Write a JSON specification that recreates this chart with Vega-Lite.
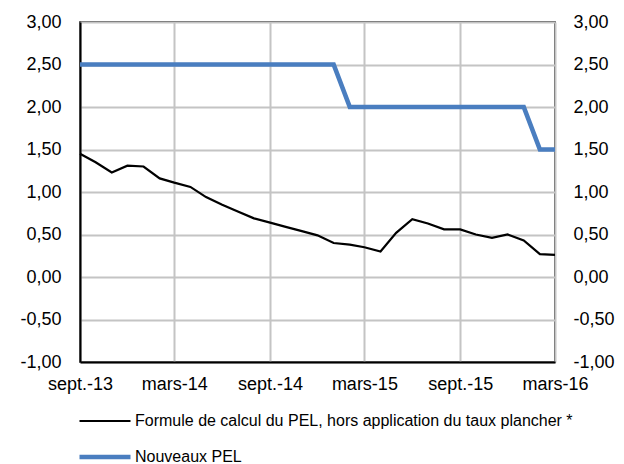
{
  "$schema": "https://vega.github.io/schema/vega-lite/v6.json",
  "width": 475,
  "height": 340,
  "autosize": {"type": "none"},
  "padding": {"left": 80, "top": 22, "right": 69, "bottom": 102},
  "background": "white",
  "config": {
    "font": "Liberation Sans",
    "view": {"stroke": "#000000", "strokeWidth": 1.5},
    "axis": {"labelFont": "Liberation Sans", "labelColor": "#000000", "labelFontSize": 18, "ticks": false, "title": null, "gridColor": "#c4c4c4", "gridWidth": 2, "domainColor": "#000000", "domainWidth": 2}
  },
  "data": {"values": [
    {"date": "2013-09-01", "serie": "Formule de calcul du PEL, hors application du taux plancher *", "taux": 1.45},
    {"date": "2013-10-01", "serie": "Formule de calcul du PEL, hors application du taux plancher *", "taux": 1.35},
    {"date": "2013-11-01", "serie": "Formule de calcul du PEL, hors application du taux plancher *", "taux": 1.23},
    {"date": "2013-12-01", "serie": "Formule de calcul du PEL, hors application du taux plancher *", "taux": 1.31},
    {"date": "2014-01-01", "serie": "Formule de calcul du PEL, hors application du taux plancher *", "taux": 1.30},
    {"date": "2014-02-01", "serie": "Formule de calcul du PEL, hors application du taux plancher *", "taux": 1.16},
    {"date": "2014-03-01", "serie": "Formule de calcul du PEL, hors application du taux plancher *", "taux": 1.11},
    {"date": "2014-04-01", "serie": "Formule de calcul du PEL, hors application du taux plancher *", "taux": 1.06},
    {"date": "2014-05-01", "serie": "Formule de calcul du PEL, hors application du taux plancher *", "taux": 0.94},
    {"date": "2014-06-01", "serie": "Formule de calcul du PEL, hors application du taux plancher *", "taux": 0.85},
    {"date": "2014-07-01", "serie": "Formule de calcul du PEL, hors application du taux plancher *", "taux": 0.77},
    {"date": "2014-08-01", "serie": "Formule de calcul du PEL, hors application du taux plancher *", "taux": 0.69},
    {"date": "2014-09-01", "serie": "Formule de calcul du PEL, hors application du taux plancher *", "taux": 0.64},
    {"date": "2014-10-01", "serie": "Formule de calcul du PEL, hors application du taux plancher *", "taux": 0.59},
    {"date": "2014-11-01", "serie": "Formule de calcul du PEL, hors application du taux plancher *", "taux": 0.54},
    {"date": "2014-12-01", "serie": "Formule de calcul du PEL, hors application du taux plancher *", "taux": 0.49},
    {"date": "2015-01-01", "serie": "Formule de calcul du PEL, hors application du taux plancher *", "taux": 0.40},
    {"date": "2015-02-01", "serie": "Formule de calcul du PEL, hors application du taux plancher *", "taux": 0.38},
    {"date": "2015-03-01", "serie": "Formule de calcul du PEL, hors application du taux plancher *", "taux": 0.35},
    {"date": "2015-04-01", "serie": "Formule de calcul du PEL, hors application du taux plancher *", "taux": 0.30},
    {"date": "2015-05-01", "serie": "Formule de calcul du PEL, hors application du taux plancher *", "taux": 0.52},
    {"date": "2015-06-01", "serie": "Formule de calcul du PEL, hors application du taux plancher *", "taux": 0.68},
    {"date": "2015-07-01", "serie": "Formule de calcul du PEL, hors application du taux plancher *", "taux": 0.63},
    {"date": "2015-08-01", "serie": "Formule de calcul du PEL, hors application du taux plancher *", "taux": 0.56},
    {"date": "2015-09-01", "serie": "Formule de calcul du PEL, hors application du taux plancher *", "taux": 0.56},
    {"date": "2015-10-01", "serie": "Formule de calcul du PEL, hors application du taux plancher *", "taux": 0.50},
    {"date": "2015-11-01", "serie": "Formule de calcul du PEL, hors application du taux plancher *", "taux": 0.46},
    {"date": "2015-12-01", "serie": "Formule de calcul du PEL, hors application du taux plancher *", "taux": 0.50},
    {"date": "2016-01-01", "serie": "Formule de calcul du PEL, hors application du taux plancher *", "taux": 0.43},
    {"date": "2016-02-01", "serie": "Formule de calcul du PEL, hors application du taux plancher *", "taux": 0.27},
    {"date": "2016-03-01", "serie": "Formule de calcul du PEL, hors application du taux plancher *", "taux": 0.26},
    {"date": "2013-09-01", "serie": "Nouveaux PEL", "taux": 2.5},
    {"date": "2013-10-01", "serie": "Nouveaux PEL", "taux": 2.5},
    {"date": "2013-11-01", "serie": "Nouveaux PEL", "taux": 2.5},
    {"date": "2013-12-01", "serie": "Nouveaux PEL", "taux": 2.5},
    {"date": "2014-01-01", "serie": "Nouveaux PEL", "taux": 2.5},
    {"date": "2014-02-01", "serie": "Nouveaux PEL", "taux": 2.5},
    {"date": "2014-03-01", "serie": "Nouveaux PEL", "taux": 2.5},
    {"date": "2014-04-01", "serie": "Nouveaux PEL", "taux": 2.5},
    {"date": "2014-05-01", "serie": "Nouveaux PEL", "taux": 2.5},
    {"date": "2014-06-01", "serie": "Nouveaux PEL", "taux": 2.5},
    {"date": "2014-07-01", "serie": "Nouveaux PEL", "taux": 2.5},
    {"date": "2014-08-01", "serie": "Nouveaux PEL", "taux": 2.5},
    {"date": "2014-09-01", "serie": "Nouveaux PEL", "taux": 2.5},
    {"date": "2014-10-01", "serie": "Nouveaux PEL", "taux": 2.5},
    {"date": "2014-11-01", "serie": "Nouveaux PEL", "taux": 2.5},
    {"date": "2014-12-01", "serie": "Nouveaux PEL", "taux": 2.5},
    {"date": "2015-01-01", "serie": "Nouveaux PEL", "taux": 2.5},
    {"date": "2015-02-01", "serie": "Nouveaux PEL", "taux": 2.0},
    {"date": "2015-03-01", "serie": "Nouveaux PEL", "taux": 2.0},
    {"date": "2015-04-01", "serie": "Nouveaux PEL", "taux": 2.0},
    {"date": "2015-05-01", "serie": "Nouveaux PEL", "taux": 2.0},
    {"date": "2015-06-01", "serie": "Nouveaux PEL", "taux": 2.0},
    {"date": "2015-07-01", "serie": "Nouveaux PEL", "taux": 2.0},
    {"date": "2015-08-01", "serie": "Nouveaux PEL", "taux": 2.0},
    {"date": "2015-09-01", "serie": "Nouveaux PEL", "taux": 2.0},
    {"date": "2015-10-01", "serie": "Nouveaux PEL", "taux": 2.0},
    {"date": "2015-11-01", "serie": "Nouveaux PEL", "taux": 2.0},
    {"date": "2015-12-01", "serie": "Nouveaux PEL", "taux": 2.0},
    {"date": "2016-01-01", "serie": "Nouveaux PEL", "taux": 2.0},
    {"date": "2016-02-01", "serie": "Nouveaux PEL", "taux": 1.5},
    {"date": "2016-03-01", "serie": "Nouveaux PEL", "taux": 1.5}
  ]},
  "layer": [
    {
      "mark": {"type": "line", "strokeJoin": "miter"},
      "encoding": {
        "x": {
          "field": "date", "type": "temporal",
          "scale": {"type": "utc", "domain": [{"year": 2013, "month": 9, "date": 1, "utc": true}, {"year": 2016, "month": 3, "date": 1, "utc": true}]},
          "axis": {
            "values": [
              {"year": 2013, "month": 9, "date": 1, "utc": true},
              {"year": 2014, "month": 3, "date": 1, "utc": true},
              {"year": 2014, "month": 9, "date": 1, "utc": true},
              {"year": 2015, "month": 3, "date": 1, "utc": true},
              {"year": 2015, "month": 9, "date": 1, "utc": true},
              {"year": 2016, "month": 3, "date": 1, "utc": true}
            ],
            "labelExpr": "(utcmonth(datum.value) == 8 ? 'sept.-' : 'mars-') + utcFormat(datum.value, '%y')",
            "labelPadding": 13,
            "labelOverlap": false,
            "labelFlush": false
          }
        },
        "y": {
          "field": "taux", "type": "quantitative",
          "scale": {"domain": [-1, 3], "nice": false, "zero": false},
          "axis": {
            "orient": "left",
            "values": [-1, -0.5, 0, 0.5, 1, 1.5, 2, 2.5, 3],
            "labelExpr": "(datum.value < 0 ? '-' : '') + replace(format(abs(datum.value), '.2f'), '.', ',')",
            "labelPadding": 19,
            "labelFlush": false,
            "labelOverlap": false
          }
        },
        "color": {
          "field": "serie", "type": "nominal",
          "scale": {"domain": ["Formule de calcul du PEL, hors application du taux plancher *", "Nouveaux PEL"], "range": ["#000000", "#4A7EC0"]},
          "legend": {
            "orient": "none", "legendX": -3, "legendY": 372, "direction": "vertical", "title": null,
            "symbolType": "stroke", "symbolSize": 2601, "labelFontSize": 16, "labelFont": "Liberation Sans", "labelColor": "#000000",
            "labelOffset": 2, "rowPadding": -19, "padding": 0, "labelLimit": 600
          }
        },
        "strokeWidth": {
          "field": "serie", "type": "nominal",
          "scale": {"domain": ["Formule de calcul du PEL, hors application du taux plancher *", "Nouveaux PEL"], "range": [2.2, 4.6]}
        }
      }
    },
    {
      "mark": {"type": "line", "opacity": 0},
      "encoding": {
        "x": {"field": "date", "type": "temporal"},
        "y": {
          "field": "taux", "type": "quantitative",
          "axis": {
            "orient": "right",
            "values": [-1, -0.5, 0, 0.5, 1, 1.5, 2, 2.5, 3],
            "labelExpr": "(datum.value < 0 ? '-' : '') + replace(format(abs(datum.value), '.2f'), '.', ',')",
            "labelPadding": 18,
            "labelFlush": false,
            "labelOverlap": false,
            "grid": false,
            "domain": false
          }
        },
        "detail": {"field": "serie", "type": "nominal"}
      }
    }
  ],
  "resolve": {"axis": {"y": "independent"}}
}
